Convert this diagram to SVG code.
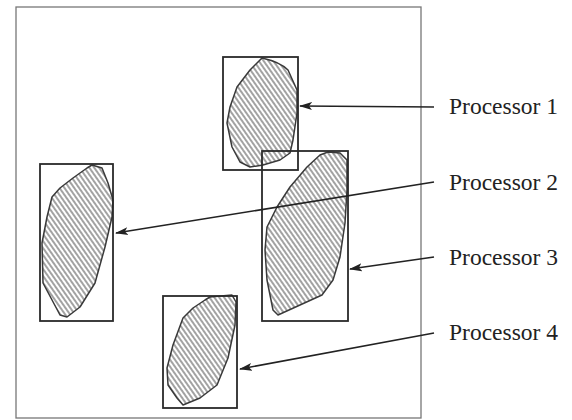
<svg xmlns="http://www.w3.org/2000/svg" width="572" height="420" viewBox="0 0 572 420">
<defs>
<pattern id="hatch" width="4" height="4" patternUnits="userSpaceOnUse" patternTransform="rotate(-35)">
<line x1="1" y1="0" x2="1" y2="4" stroke="#555" stroke-width="1.1"/>
</pattern>
<marker id="arr" markerWidth="13" markerHeight="9" refX="12" refY="4.5" orient="auto" markerUnits="userSpaceOnUse">
<path d="M0,0.5 L13,4.5 L0,8.5 L3,4.5 Z" fill="#222"/>
</marker>
</defs>
<style>
.frame{fill:#fff;stroke:#777;stroke-width:1.3}
.box{fill:none;stroke:#2a2a2a;stroke-width:1.8}
.blob{fill:url(#hatch);stroke:#3a3a3a;stroke-width:1.5;stroke-linejoin:round}
.conn{stroke:#222;stroke-width:1.6;fill:none;marker-end:url(#arr)}
.lbl{font-family:"Liberation Serif","Times New Roman",serif;font-size:23.5px;fill:#222}
</style>
<rect class="frame" x="16" y="7" width="405" height="411"/>
<g id="p1">
<path class="blob" d="M262,58 Q280,62 288,70 L297,90 L297,113 L293,140 L290,153 L280,160 L263,165 L250,167 L240,162 L232,147 L227,123 L230,107 L237,87 L250,70 Z"/>
<rect class="box" x="223" y="57" width="75" height="113"/>
</g>
<g id="p2">
<path class="blob" d="M92,165 L102,168 L108,183 L113,200 L112,217 L105,247 L95,283 L80,307 L67,317 L60,315 L43,283 L42,243 L47,217 L52,197 L60,188 L73,178 L87,168 Z"/>
<rect class="box" x="40" y="164" width="73" height="157"/>
</g>
<g id="p3">
<path class="blob" d="M328,152 L340,153 L347,160 L347,190 L345,223 L340,257 L333,280 L322,295 L300,305 L278,315 L273,310 L267,280 L265,250 L267,227 L277,207 L290,187 L307,167 L320,155 Z"/>
<rect class="box" x="262" y="151" width="86" height="170"/>
</g>
<g id="p4">
<path class="blob" d="M210,297 L232,295 L236,302 L235,325 L228,358 L217,385 L200,398 L183,405 L177,398 L168,385 L167,368 L173,345 L183,318 L193,308 L205,300 Z"/>
<rect class="box" x="163" y="296" width="74" height="112"/>
</g>
<g id="connectors">
<line class="conn" x1="434" y1="107" x2="300" y2="106"/>
<line class="conn" x1="434" y1="182" x2="116" y2="233"/>
<line class="conn" x1="434" y1="257" x2="350" y2="269"/>
<line class="conn" x1="434" y1="333" x2="240" y2="369"/>
</g>
<g id="labels">
<text class="lbl" x="449" y="114">Processor 1</text>
<text class="lbl" x="449" y="190">Processor 2</text>
<text class="lbl" x="449" y="265">Processor 3</text>
<text class="lbl" x="449" y="340">Processor 4</text>
</g>
</svg>
